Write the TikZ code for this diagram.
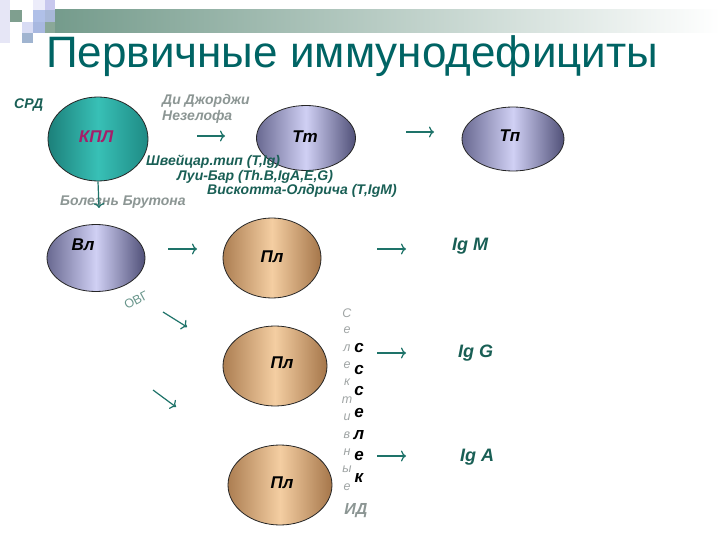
\documentclass[tikz,border=0pt]{standalone}
\usepackage{fontspec}
\setmainfont{Liberation Sans}
\usetikzlibrary{shapes.geometric,arrows.meta}
\definecolor{titlecol}{RGB}{0,100,100}
\definecolor{lab}{RGB}{25,95,85}
\definecolor{gry}{RGB}{140,150,148}
\definecolor{lgry}{RGB}{160,165,165}
\definecolor{arr}{RGB}{30,115,105}
\definecolor{ovg}{RGB}{105,150,140}
\definecolor{mag}{RGB}{165,30,105}
\definecolor{bandc}{RGB}{112,152,136}
\definecolor{sqA}{RGB}{230,230,246}
\definecolor{sqB}{RGB}{127,159,143}
\definecolor{sqC}{RGB}{236,236,250}
\definecolor{sqD}{RGB}{200,200,238}
\definecolor{sqE}{RGB}{176,192,232}
\definecolor{sqF}{RGB}{168,184,216}
\definecolor{sqG}{RGB}{216,220,244}
\definecolor{sqH}{RGB}{168,184,224}
\definecolor{sqI}{RGB}{138,168,152}
\definecolor{sqJ}{RGB}{160,180,208}
\definecolor{tealL}{RGB}{28,128,122}
\definecolor{tealM}{RGB}{56,192,182}
\definecolor{tealR}{RGB}{30,138,132}
\definecolor{violL}{RGB}{105,105,145}
\definecolor{violM}{RGB}{208,208,244}
\definecolor{violR}{RGB}{80,80,120}
\definecolor{tanL}{RGB}{172,126,82}
\definecolor{tanM}{RGB}{244,206,162}
\definecolor{tanR}{RGB}{165,118,74}
\tikzset{
  cell/.style={ellipse, draw=black!85, line width=0.8pt, inner sep=0pt},
  tealcell/.style={cell, left color=tealL, right color=tealR, middle color=tealM},
  violcell/.style={cell, left color=violL, right color=violR, middle color=violM},
  tancell/.style={cell, left color=tanL, right color=tanR, middle color=tanM},
  celltxt/.style={font=\fontsize{17}{17}\selectfont\bfseries\itshape, inner sep=0pt},
  lbl/.style={font=\fontsize{14}{15}\selectfont\bfseries\itshape, text=lab, anchor=west, inner sep=0pt},
  glbl/.style={font=\fontsize{14}{15}\selectfont\bfseries\itshape, text=gry, anchor=west, inner sep=0pt},
  iglbl/.style={font=\fontsize{18}{18}\selectfont\bfseries\itshape, text=lab, anchor=west, inner sep=0pt},
  vgr/.style={font=\fontsize{12.5}{13}\selectfont\itshape, text=lgry, inner sep=0pt},
  vbk/.style={font=\fontsize{17}{17}\selectfont\bfseries\itshape, text=black, inner sep=0pt},
  arrw/.style={draw=arr, line width=1.2pt, -{To[length=5pt,width=11pt]}}
}
\begin{document}
\begin{tikzpicture}[x=1pt,y=-1pt]
\useasboundingbox[fill=white] (0,0) rectangle (720,540);
% header band and squares
\shade[left color=bandc, right color=white] (33,10) rectangle (720,33);
\fill[sqA] (0,0) rectangle (10,43);
\fill[sqB] (10,10) rectangle (22,22);
\fill[sqC] (33,0) rectangle (45,10);
\fill[sqD] (45,0) rectangle (55,10);
\fill[sqE] (33,10) rectangle (45,22);
\fill[sqF] (45,10) rectangle (55,22);
\fill[sqG] (22,22) rectangle (33,33);
\fill[sqH] (33,22) rectangle (45,33);
\fill[sqI] (45,22) rectangle (55,33);
\fill[sqJ] (22,33) rectangle (33,43);
% title
\node[font=\fontsize{44}{44}\selectfont, text=titlecol, anchor=base west, inner sep=0pt] (title) at (46,68) {Первичные иммунодефициты};
% cells
\node[tealcell, minimum width=100pt, minimum height=84pt] (kpl) at (98,139) {};
\node[celltxt, text=mag] (kplt) at (96,137) {КПЛ};
\node[violcell, minimum width=99pt, minimum height=65pt] (tt) at (306,138) {};
\node[celltxt] (ttt) at (305,137) {Тт};
\node[violcell, minimum width=102pt, minimum height=64pt] (tp) at (513,139) {};
\node[celltxt] (tpt) at (510,136) {Тп};
\node[violcell, minimum width=98pt, minimum height=67pt] (vl) at (96,258) {};
\node[celltxt] (vlt) at (83,245) {Вл};
\node[tancell, minimum width=98pt, minimum height=80pt] (pl1) at (272,258) {};
\node[celltxt] (pl1t) at (272,257) {Пл};
\node[tancell, minimum width=104pt, minimum height=80pt] (pl2) at (275,366) {};
\node[celltxt] (pl2t) at (282,363) {Пл};
\node[tancell, minimum width=104pt, minimum height=80pt] (pl3) at (280,485) {};
\node[celltxt] (pl3t) at (282,483) {Пл};
% labels
\node[lbl] (srd) at (14,105) {СРД};
\node[glbl] (dg1) at (162,101) {Ди Джорджи};
\node[glbl] (dg2) at (162,117) {Незелофа};
\node[lbl] (sw) at (146,162) {Швейцар.тип (T,Ig)};
\node[lbl] (lb) at (177,177) {Луи-Бар (Th.B,IgA,E,G)};
\node[lbl] (wo) at (207,191) {Вискотта-Олдрича (T,IgM)};
\node[glbl] (br) at (60,202) {Болезнь Брутона};
\node[font=\fontsize{12.5}{12.5}\selectfont, text=ovg, rotate=28, inner sep=0pt] (ovgl) at (136,300) {ОВГ};
\node[iglbl] (igm) at (452,246) {Ig M};
\node[iglbl] (igg) at (458,353) {Ig G};
\node[iglbl] (iga) at (460,457) {Ig A};
% vertical texts
\foreach \ch [count=\i from 0] in {С,е,л,е,к,т,и,в,н,ы,е}
  \node[vgr] (s\i) at (347,313+17.4*\i) {\ch};
\foreach \ch [count=\i from 0] in {с,с,с,е,л,е,к}
  \node[vbk] (b\i) at (359,348+21.7*\i) {\ch};
\node[font=\fontsize{16}{16}\selectfont\bfseries\itshape, text=gry, inner sep=0pt] (id) at (356,511) {ИД};
% arrows
\coordinate (a1s) at (197,136); \coordinate (a1e) at (225,136);
\coordinate (a2s) at (406,132); \coordinate (a2e) at (434,132);
\coordinate (a3e) at (99,208);
\coordinate (a4s) at (168,249); \coordinate (a4e) at (197,249);
\coordinate (a5s) at (377,249); \coordinate (a5e) at (406,249);
\coordinate (a6s) at (163,312); \coordinate (a6e) at (187,327);
\coordinate (a7s) at (153,390); \coordinate (a7e) at (176,407);
\coordinate (a8s) at (377,353); \coordinate (a8e) at (406,353);
\coordinate (a9s) at (377,456); \coordinate (a9e) at (406,456);
\draw[arrw] (a1s) -- (a1e);
\draw[arrw] (a2s) -- (a2e);
\draw[arrw] (kpl.south) -- (a3e);
\draw[arrw] (a4s) -- (a4e);
\draw[arrw] (a5s) -- (a5e);
\draw[arrw] (a6s) -- (a6e);
\draw[arrw] (a7s) -- (a7e);
\draw[arrw] (a8s) -- (a8e);
\draw[arrw] (a9s) -- (a9e);
\end{tikzpicture}
\end{document}
